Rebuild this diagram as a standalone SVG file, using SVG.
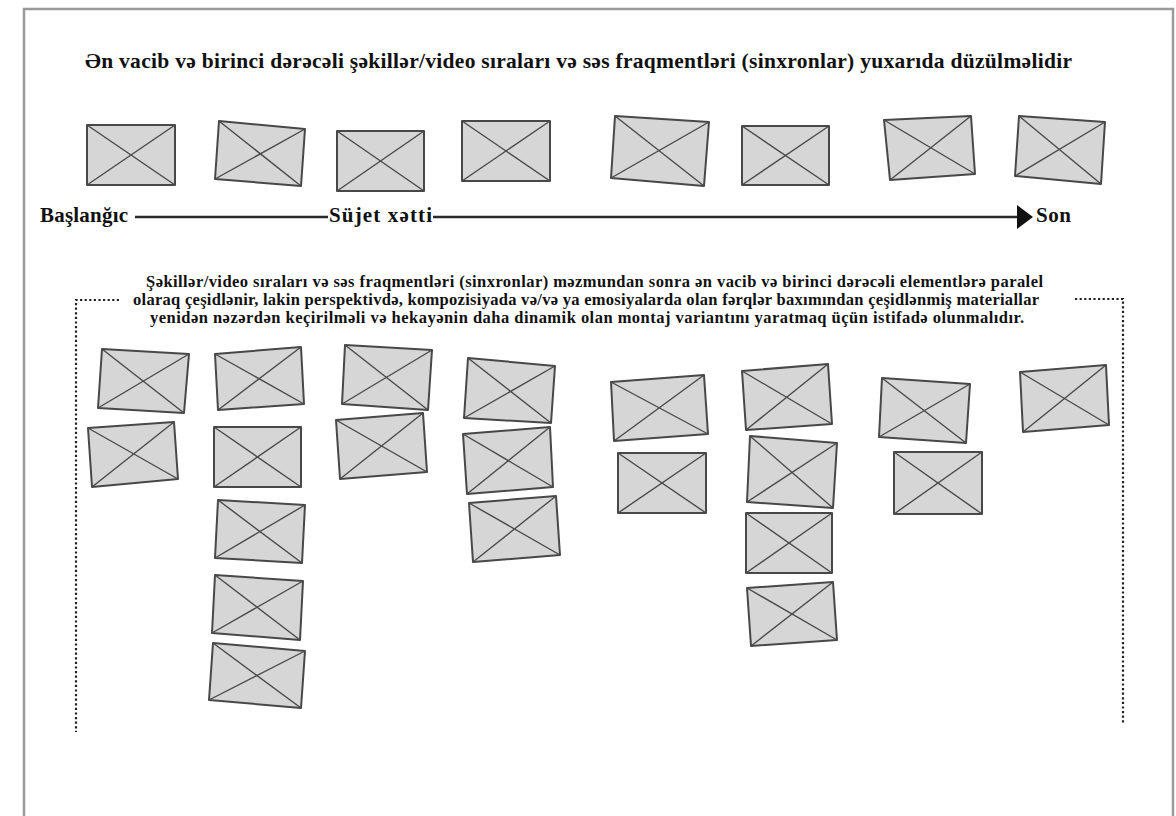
<svg xmlns="http://www.w3.org/2000/svg" width="1176" height="816" viewBox="0 0 1176 816">
<style>
.frame{fill:#fff;stroke:#9a9a9a;stroke-width:2.5}
.t{font-family:"Liberation Serif","Times New Roman",serif;font-weight:bold;fill:#111}
.title{font-size:21.5px}
.lab{font-size:21px}
.para{font-size:16.5px}
.box polygon{fill:#d6d6d6;stroke:#484848;stroke-width:2;stroke-linejoin:round}
.box line{stroke:#4a4a4a;stroke-width:1.4}
.dot{fill:none;stroke:#222;stroke-width:2.2;stroke-dasharray:2.2 2.4}
.axis{stroke:#2a2a2a;stroke-width:2.6;fill:none}
</style>
<rect class="frame" x="24" y="9" width="1149" height="840"/>
<text class="t title" x="578.5" y="68" text-anchor="middle" textLength="987" lengthAdjust="spacing">Ən vacib və birinci dərəcəli şəkillər/video sıraları və səs fraqmentləri (sinxronlar) yuxarıda düzülməlidir</text>
<g id="top-row">
<g id="t1" class="box"><polygon points="87,125 175,125 175,185 87,185"/><line x1="87" y1="125" x2="175" y2="185"/><line x1="175" y1="125" x2="87" y2="185"/></g>
<g id="t2" class="box"><polygon points="219,121 305,129 301,186 215,179"/><line x1="219" y1="121" x2="301" y2="186"/><line x1="305" y1="129" x2="215" y2="179"/></g>
<g id="t3" class="box"><polygon points="337,131 424,131 424,191 337,191"/><line x1="337" y1="131" x2="424" y2="191"/><line x1="424" y1="131" x2="337" y2="191"/></g>
<g id="t4" class="box"><polygon points="462,121 550,121 550,181 462,181"/><line x1="462" y1="121" x2="550" y2="181"/><line x1="550" y1="121" x2="462" y2="181"/></g>
<g id="t5" class="box"><polygon points="615,116 709,122 704,186 611,178"/><line x1="615" y1="116" x2="704" y2="186"/><line x1="709" y1="122" x2="611" y2="178"/></g>
<g id="t6" class="box"><polygon points="742,126 829,126 829,185 742,185"/><line x1="742" y1="126" x2="829" y2="185"/><line x1="829" y1="126" x2="742" y2="185"/></g>
<g id="t7" class="box"><polygon points="884,120 971,116 975,174 890,180"/><line x1="884" y1="120" x2="975" y2="174"/><line x1="971" y1="116" x2="890" y2="180"/></g>
<g id="t8" class="box"><polygon points="1019,116 1105,122 1101,184 1015,176"/><line x1="1019" y1="116" x2="1101" y2="184"/><line x1="1105" y1="122" x2="1015" y2="176"/></g>
</g>
<g id="connectors">
<line class="axis" x1="135" y1="217" x2="328" y2="217"/>
<line class="axis" x1="433" y1="217" x2="1018" y2="217"/>
<polygon points="1017,205 1033,217 1017,229" fill="#111"/>
<polyline class="dot" points="119,300 76,300 76,732"/>
<polyline class="dot" points="1075,299 1123,299 1123,724"/>
</g>
<g id="start"><text class="t lab" x="40" y="222" textLength="88" lengthAdjust="spacing">Başlanğıc</text></g>
<g id="plot"><text class="t lab" x="329" y="222" textLength="103" lengthAdjust="spacing">Süjet xətti</text></g>
<g id="end"><text class="t lab" x="1036" y="222" textLength="35" lengthAdjust="spacing">Son</text></g>
<g id="note">
<text class="t para" x="594.5" y="287" text-anchor="middle" textLength="897" lengthAdjust="spacing">Şəkillər/video sıraları və səs fraqmentləri (sinxronlar) məzmundan sonra ən vacib və birinci dərəcəli elementlərə paralel</text>
<text class="t para" x="586" y="305" text-anchor="middle" textLength="906" lengthAdjust="spacing">olaraq çeşidlənir, lakin perspektivdə, kompozisiyada və/və ya emosiyalarda olan fərqlər baxımından çeşidlənmiş materiallar</text>
<text class="t para" x="587" y="323" text-anchor="middle" textLength="874" lengthAdjust="spacing">yenidən nəzərdən keçirilməli və hekayənin daha dinamik olan montaj variantını yaratmaq üçün istifadə olunmalıdır.</text>
</g>
<g id="lower">
<g id="c1a" class="box"><polygon points="102,349 189,354 184,413 98,408"/><line x1="102" y1="349" x2="184" y2="413"/><line x1="189" y1="354" x2="98" y2="408"/></g>
<g id="c1b" class="box"><polygon points="88,428 174,422 178,479 92,487"/><line x1="88" y1="428" x2="178" y2="479"/><line x1="174" y1="422" x2="92" y2="487"/></g>
<g id="c2a" class="box"><polygon points="215,354 301,347 304,404 218,410"/><line x1="215" y1="354" x2="304" y2="404"/><line x1="301" y1="347" x2="218" y2="410"/></g>
<g id="c2b" class="box"><polygon points="214,427 301,427 301,487 214,487"/><line x1="214" y1="427" x2="301" y2="487"/><line x1="301" y1="427" x2="214" y2="487"/></g>
<g id="c2c" class="box"><polygon points="218,500 305,505 302,563 215,558"/><line x1="218" y1="500" x2="302" y2="563"/><line x1="305" y1="505" x2="215" y2="558"/></g>
<g id="c2d" class="box"><polygon points="215,575 303,581 300,640 212,633"/><line x1="215" y1="575" x2="300" y2="640"/><line x1="303" y1="581" x2="212" y2="633"/></g>
<g id="c2e" class="box"><polygon points="213,643 305,651 301,708 209,700"/><line x1="213" y1="643" x2="301" y2="708"/><line x1="305" y1="651" x2="209" y2="700"/></g>
<g id="c3a" class="box"><polygon points="345,345 432,350 428,410 342,404"/><line x1="345" y1="345" x2="428" y2="410"/><line x1="432" y1="350" x2="342" y2="404"/></g>
<g id="c3b" class="box"><polygon points="336,420 423,413 427,472 340,479"/><line x1="336" y1="420" x2="427" y2="472"/><line x1="423" y1="413" x2="340" y2="479"/></g>
<g id="c4a" class="box"><polygon points="468,358 555,366 551,423 464,418"/><line x1="468" y1="358" x2="551" y2="423"/><line x1="555" y1="366" x2="464" y2="418"/></g>
<g id="c4b" class="box"><polygon points="463,434 550,427 553,487 467,494"/><line x1="463" y1="434" x2="553" y2="487"/><line x1="550" y1="427" x2="467" y2="494"/></g>
<g id="c4c" class="box"><polygon points="469,503 556,496 560,555 473,562"/><line x1="469" y1="503" x2="560" y2="555"/><line x1="556" y1="496" x2="473" y2="562"/></g>
<g id="c5a" class="box"><polygon points="611,382 704,375 708,434 614,441"/><line x1="611" y1="382" x2="708" y2="434"/><line x1="704" y1="375" x2="614" y2="441"/></g>
<g id="c5b" class="box"><polygon points="618,453 706,453 706,513 618,513"/><line x1="618" y1="453" x2="706" y2="513"/><line x1="706" y1="453" x2="618" y2="513"/></g>
<g id="c6a" class="box"><polygon points="742,371 828,364 832,424 746,430"/><line x1="742" y1="371" x2="832" y2="424"/><line x1="828" y1="364" x2="746" y2="430"/></g>
<g id="c6b" class="box"><polygon points="750,436 837,443 833,508 747,502"/><line x1="750" y1="436" x2="833" y2="508"/><line x1="837" y1="443" x2="747" y2="502"/></g>
<g id="c6c" class="box"><polygon points="746,513 832,513 832,573 746,573"/><line x1="746" y1="513" x2="832" y2="573"/><line x1="832" y1="513" x2="746" y2="573"/></g>
<g id="c6d" class="box"><polygon points="747,588 833,582 837,640 751,646"/><line x1="747" y1="588" x2="837" y2="640"/><line x1="833" y1="582" x2="751" y2="646"/></g>
<g id="c7a" class="box"><polygon points="882,378 970,384 966,443 879,437"/><line x1="882" y1="378" x2="966" y2="443"/><line x1="970" y1="384" x2="879" y2="437"/></g>
<g id="c7b" class="box"><polygon points="894,452 982,452 982,514 894,514"/><line x1="894" y1="452" x2="982" y2="514"/><line x1="982" y1="452" x2="894" y2="514"/></g>
<g id="c8" class="box"><polygon points="1020,372 1106,365 1109,425 1023,432"/><line x1="1020" y1="372" x2="1109" y2="425"/><line x1="1106" y1="365" x2="1023" y2="432"/></g>
</g>
</svg>
